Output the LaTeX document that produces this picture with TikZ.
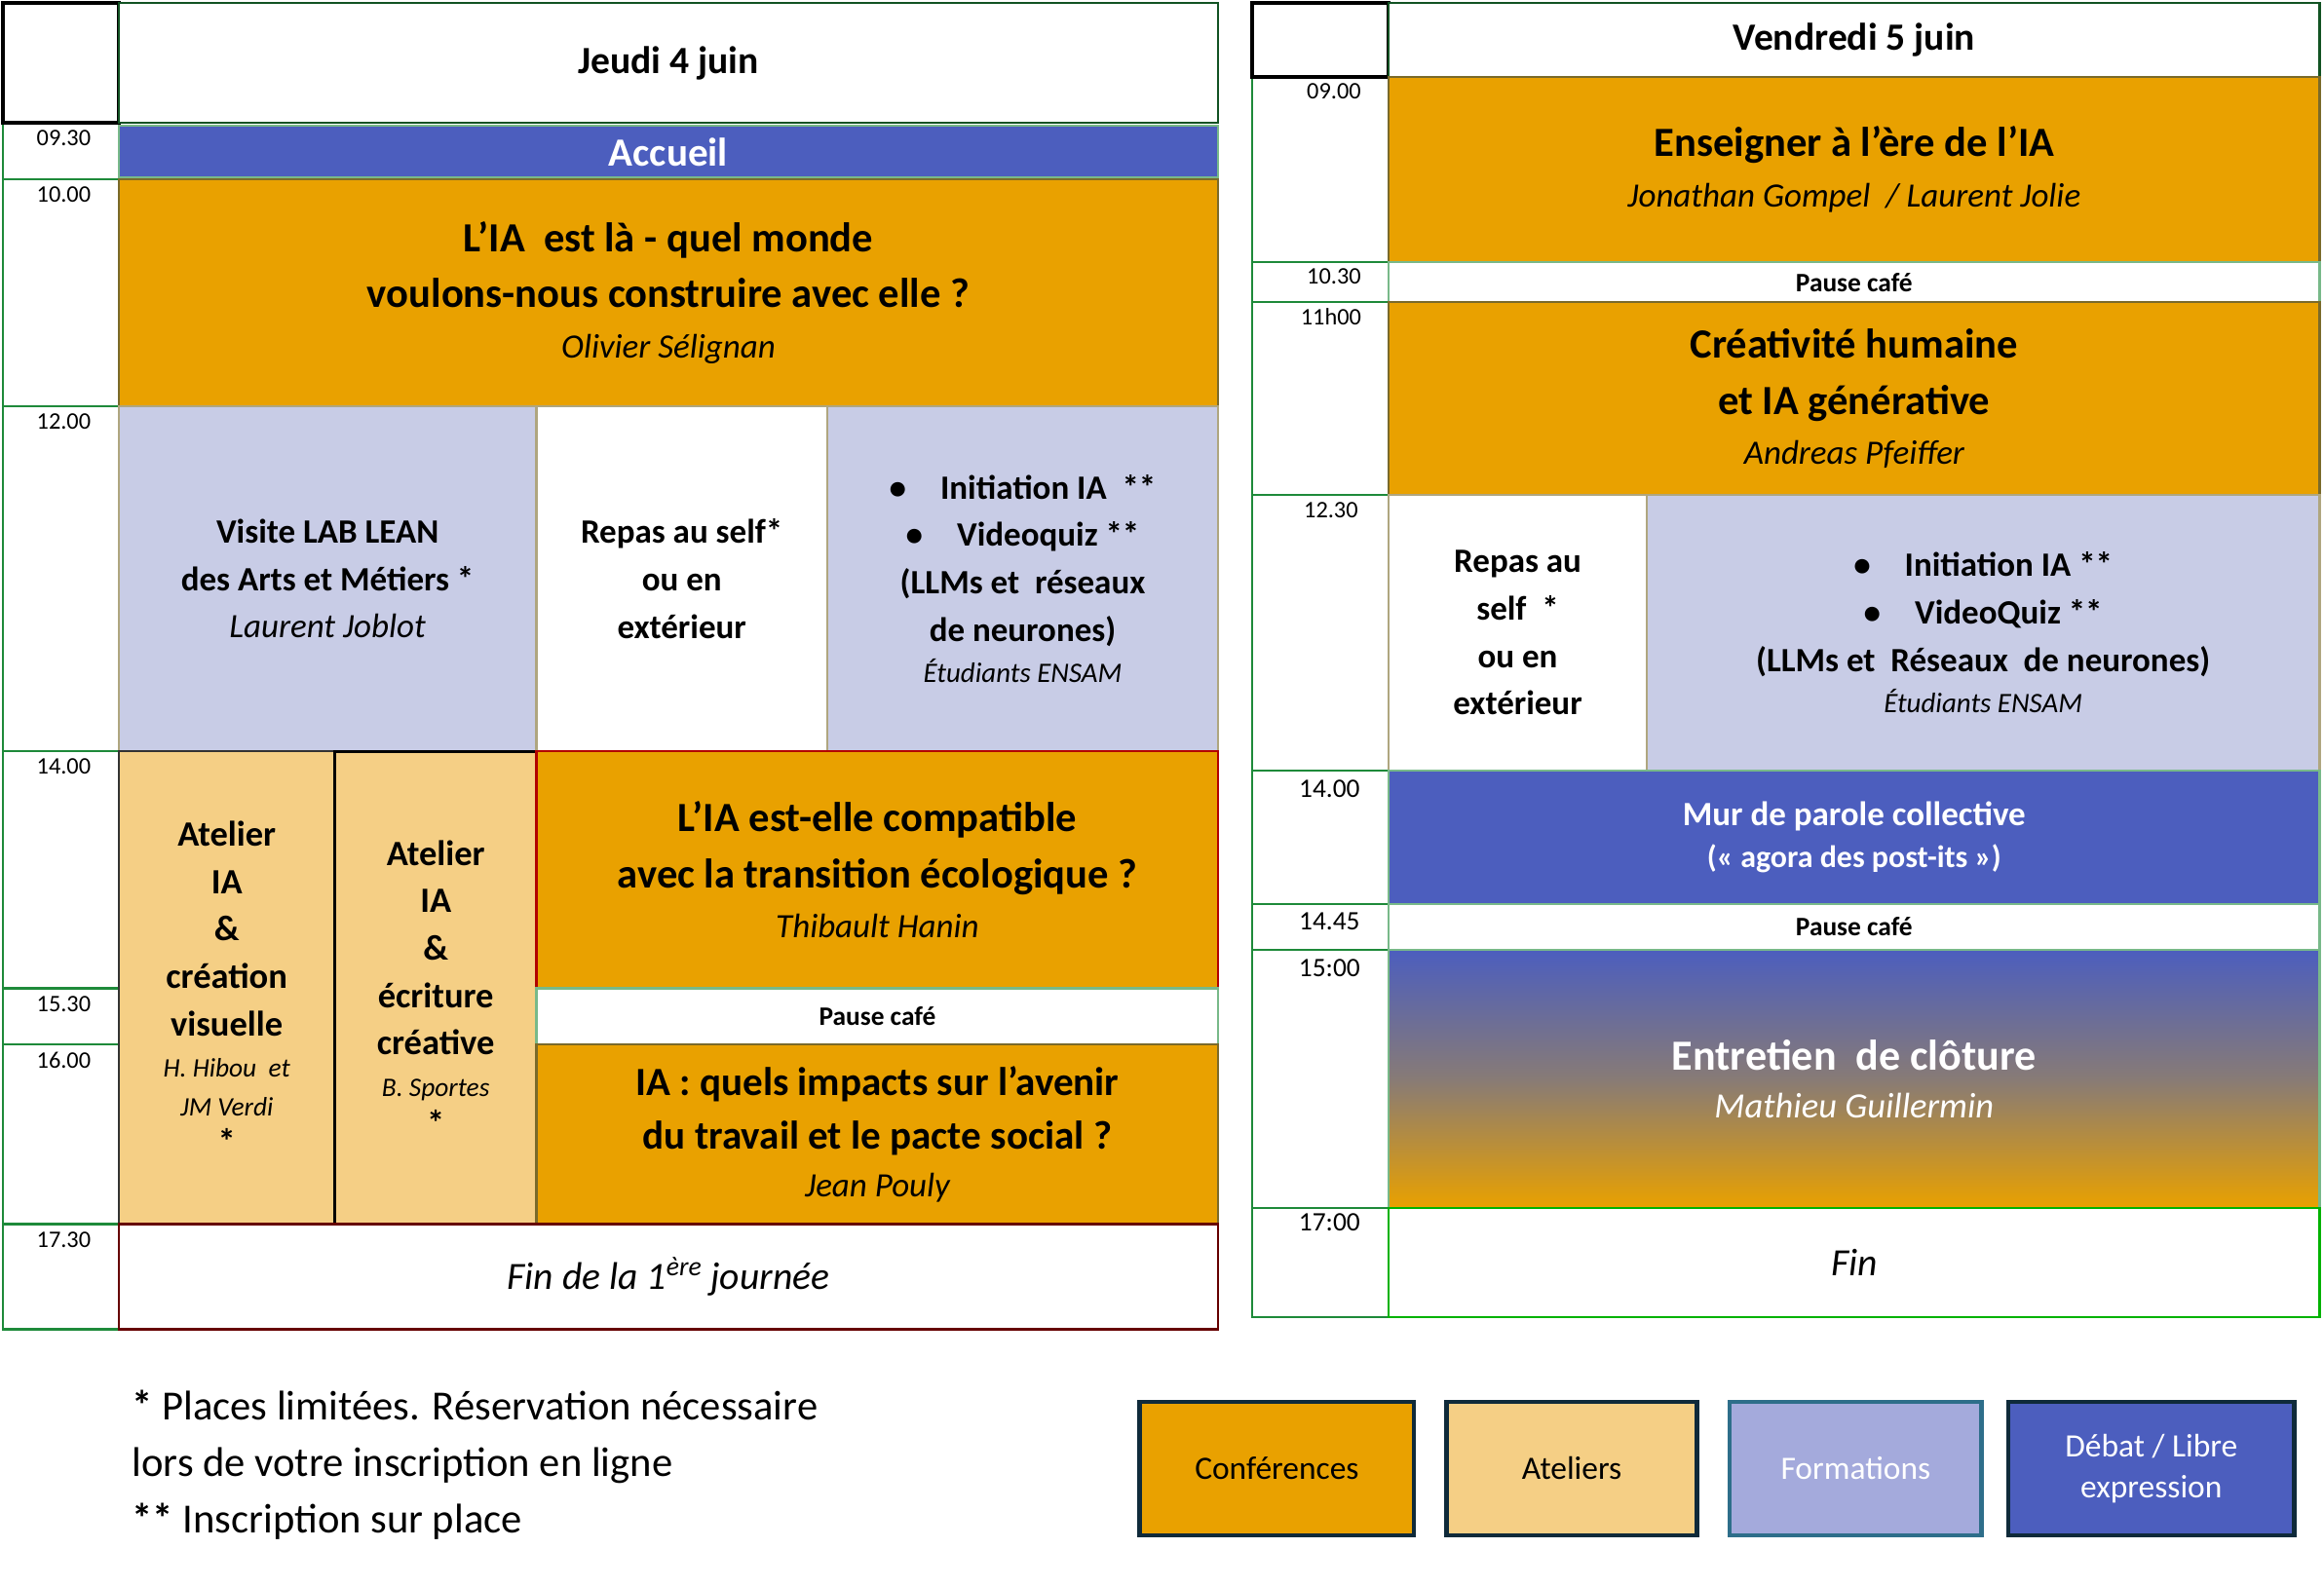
\documentclass[tikz,border=0pt]{standalone}
\usepackage{fontspec}
\setmainfont{Carlito}
\definecolor{conf}{HTML}{E9A100}
\definecolor{atel}{HTML}{F5CF85}
\definecolor{form}{HTML}{C8CCE6}
\definecolor{deb}{HTML}{4C5EBE}
\definecolor{formleg}{HTML}{A4AADC}
\definecolor{grn}{HTML}{1E8A3A}
\definecolor{brd}{HTML}{7A6A2A}
\definecolor{navy}{HTML}{0F2A3A}
\definecolor{teal}{HTML}{2E6E8A}
\newcommand\cell[7]{\node[#6,minimum width={(#4-#2)*1pt},minimum height={(#5-#3)*1pt}] (#1) at ({(#2+#4)/2},{(#3+#5)/2}) {#7};}
\tikzset{
 base/.style={draw,inner sep=0pt,outer sep=0pt,align=center,line width=1.5pt},
 tcell/.style={base,draw=grn,fill=white},
 corner/.style={base,draw=black,line width=2.5pt,fill=white},
 head/.style={base,draw=grn!60!black,fill=white,font=\fontsize{26}{30}\selectfont\bfseries},
 confb/.style={base,draw=brd,fill=conf,font=\fontsize{28}{38}\selectfont\bfseries},
 atelb/.style={base,draw=black!80,fill=atel,font=\fontsize{24}{32}\selectfont\bfseries},
 formb/.style={base,draw=brd!60,fill=form,font=\fontsize{23}{32}\selectfont\bfseries},
 whiteb/.style={base,draw=brd!60,fill=white,font=\fontsize{23}{32}\selectfont\bfseries},
 debb/.style={base,draw=grn!60,fill=deb,text=white,font=\fontsize{23}{30}\selectfont\bfseries},
 pause/.style={base,draw=grn!60,fill=white,font=\fontsize{18}{20}\selectfont\bfseries},
 tlab/.style={anchor=north,font=\fontsize{16}{18}\selectfont,inner sep=0pt},
 legb/.style={base,line width=3pt,font=\fontsize{22}{28}\selectfont},
 it/.style={font=\fontsize{23}{28}\selectfont\itshape\mdseries},
}
\begin{document}
\begin{tikzpicture}[x=1pt,y=-1pt]
\useasboundingbox (0,0) rectangle (1568,1070);
% ---- left panel time column
\cell{t0}{2}{83}{80}{121}{tcell}{}
\cell{t1}{2}{121}{80}{274}{tcell}{}
\cell{t2}{2}{274}{80}{507}{tcell}{}
\cell{t3}{2}{507}{80}{667}{tcell}{}
\cell{t4}{2}{667}{80}{705}{tcell}{}
\cell{t5}{2}{705}{80}{826}{tcell}{}
\cell{t6}{2}{826}{80}{897}{tcell}{}
\node[tlab] at (43,88) {09.30};
\node[tlab] at (43,126) {10.00};
\node[tlab] at (43,279) {12.00};
\node[tlab] at (43,512) {14.00};
\node[tlab] at (43,672) {15.30};
\node[tlab] at (43,710) {16.00};
\node[tlab] at (43,831) {17.30};
\cell{c0}{2}{2}{80}{83}{corner}{}
\cell{h0}{80}{2}{822}{83}{head}{Jeudi 4 juin}
\cell{acc}{80}{85}{822}{120}{debb,font=\fontsize{27}{30}\selectfont\bfseries}{Accueil}
\cell{k1}{80}{121}{822}{274}{confb}{L’IA\ \ est là - quel monde\\voulons-nous construire avec elle ?\\[-4pt]{\it\mdseries\fontsize{23}{28}\selectfont Olivier Sélignan}}
\cell{lab}{80}{274}{362}{507}{formb}{Visite LAB LEAN\\des Arts et Métiers *\\{\it\mdseries Laurent Joblot}}
\cell{rep}{362}{274}{558}{507}{whiteb}{Repas au self*\\ou en\\extérieur}
\cell{ini}{558}{274}{822}{507}{formb}{\textbullet\quad Initiation IA\ \ **\\\textbullet\quad Videoquiz **\\(LLMs et\ \ réseaux\\de neurones)\\[-4pt]{\it\mdseries\fontsize{19}{24}\selectfont Étudiants ENSAM}}
\cell{at1}{80}{507}{226}{826}{atelb}{Atelier\\IA\\\&\\création\\visuelle\\[-4pt]{\it\mdseries\fontsize{18}{24}\selectfont H. Hibou\ \ et}\\[-6pt]{\it\mdseries\fontsize{18}{24}\selectfont JM Verdi}\\[-6pt]*}
\cell{at2}{226}{507}{362}{826}{atelb,draw=black,line width=2pt}{Atelier\\IA\\\&\\écriture\\créative\\[-4pt]{\it\mdseries\fontsize{18}{24}\selectfont B. Sportes}\\[-6pt]*}
\cell{k2}{362}{507}{822}{667}{confb,draw=red!70!black}{L’IA est-elle compatible\\avec la transition écologique ?\\[-4pt]{\it\mdseries\fontsize{23}{28}\selectfont Thibault Hanin}}
\cell{p1}{362}{667}{822}{705}{pause}{Pause café}
\cell{k3}{362}{705}{822}{826}{confb,font=\fontsize{27}{36}\selectfont\bfseries}{IA : quels impacts sur l’avenir\\du travail et le pacte social ?\\[-4pt]{\it\mdseries\fontsize{23}{28}\selectfont Jean Pouly}}
\cell{fin1}{80}{826}{822}{897}{whiteb,draw=red!40!black,font=\fontsize{26}{30}\selectfont\itshape}{Fin de la 1\textsuperscript{ère} journée}
% ---- right panel
\cell{r0}{845}{52}{937}{177}{tcell}{}
\cell{r1}{845}{177}{937}{204}{tcell}{}
\cell{r2}{845}{204}{937}{334}{tcell}{}
\cell{r3}{845}{334}{937}{520}{tcell}{}
\cell{r4}{845}{520}{937}{610}{tcell}{}
\cell{r5}{845}{610}{937}{641}{tcell}{}
\cell{r6}{845}{641}{937}{815}{tcell}{}
\cell{r7}{845}{815}{937}{889}{tcell}{}
\node[tlab] at (900,56) {09.00};
\node[tlab] at (900,181) {10.30};
\node[tlab] at (898,208) {11h00};
\node[tlab] at (898,339) {12.30};
\node[tlab,font=\fontsize{18}{20}\selectfont] at (897,526) {14.00};
\node[tlab,font=\fontsize{18}{20}\selectfont] at (897,616) {14.45};
\node[tlab,font=\fontsize{18}{20}\selectfont] at (897,647) {15:00};
\node[tlab,font=\fontsize{18}{20}\selectfont] at (897,819) {17:00};
\cell{c1}{845}{2}{937}{52}{corner}{}
\cell{h1}{937}{2}{1565}{52}{head}{Vendredi 5 juin}
\cell{e1}{937}{52}{1565}{177}{confb}{Enseigner à l’ère de l’IA\\[-4pt]{\it\mdseries\fontsize{23}{28}\selectfont Jonathan Gompel\ \ / Laurent Jolie}}
\cell{p2}{937}{177}{1565}{204}{pause}{Pause café}
\cell{e2}{937}{204}{1565}{334}{confb}{Créativité humaine\\et IA générative\\[-4pt]{\it\mdseries\fontsize{23}{28}\selectfont Andreas Pfeiffer}}
\cell{rep2}{937}{334}{1111}{520}{whiteb}{Repas au\\self\ \ *\\ou en\\extérieur}
\cell{ini2}{1111}{334}{1565}{520}{formb}{\textbullet\quad Initiation IA **\\\textbullet\quad VideoQuiz **\\(LLMs et\ \ Réseaux\ \ de neurones)\\[-4pt]{\it\mdseries\fontsize{19}{24}\selectfont Étudiants ENSAM}}
\cell{mur}{937}{520}{1565}{610}{debb}{Mur de parole collective\\[-2pt]{\fontsize{21}{26}\selectfont(« agora des post-its »)}}
\cell{p3}{937}{610}{1565}{641}{pause}{Pause café}
\node[base,draw=grn!60,top color=deb,bottom color=conf,middle color=conf!40!deb!70!gray,text=white,minimum width=628pt,minimum height=174pt,font=\fontsize{29}{36}\selectfont\bfseries] (ent) at (1251,728) {Entretien\ \ de clôture\\[-4pt]{\it\mdseries\fontsize{24}{28}\selectfont Mathieu Guillermin}};
\cell{fin2}{937}{815}{1565}{889}{whiteb,draw=green!70!black,font=\fontsize{26}{30}\selectfont\itshape\mdseries}{Fin}
% ---- footnote
\node[anchor=north west,align=left,inner sep=0pt,font=\fontsize{28}{38}\selectfont] (note) at (89,938) {\textbf{*} Places limitées. Réservation nécessaire\\lors de votre inscription en ligne\\\textbf{**} Inscription sur place};
% ---- legend
\cell{l1}{769}{946}{954}{1036}{legb,draw=navy,fill=conf}{Conférences}
\cell{l2}{976}{946}{1145}{1036}{legb,draw=navy,fill=atel}{Ateliers}
\cell{l3}{1167}{946}{1337}{1036}{legb,draw=teal,fill=formleg,text=white}{Formations}
\cell{l4}{1355}{946}{1548}{1036}{legb,draw=navy,fill=deb,text=white}{Débat / Libre\\expression}
\end{tikzpicture}
\end{document}
